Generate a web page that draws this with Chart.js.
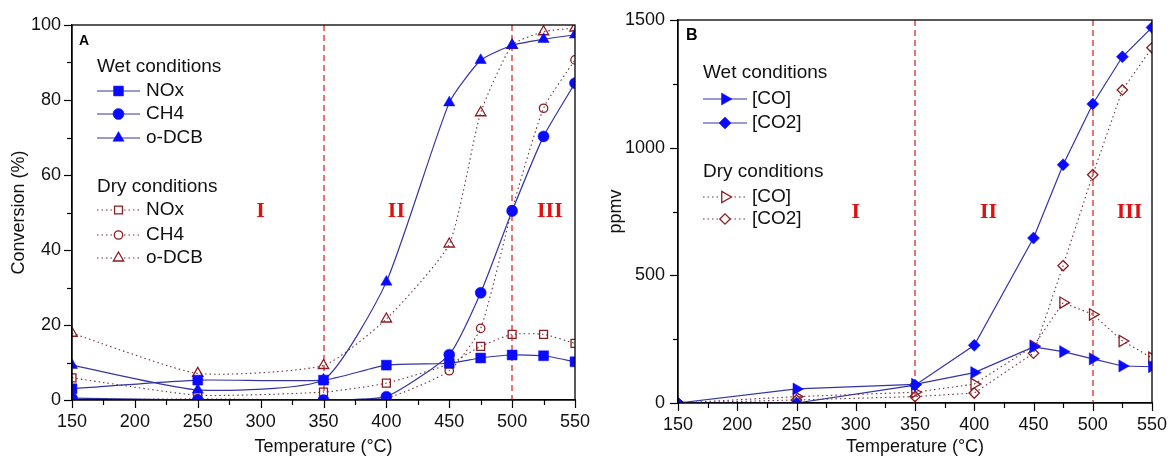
<!DOCTYPE html>
<html><head><meta charset="utf-8">
<script src="https://cdn.jsdelivr.net/npm/chart.js@4/dist/chart.umd.min.js"></script>
<style>
html,body{margin:0;padding:0;background:#fff;}
#wrap{position:relative;width:1172px;height:464px;overflow:hidden;background:#fff;}
canvas{position:absolute;top:0;}
</style></head><body>
<div id="wrap">
<canvas id="cA" width="600" height="464" style="left:0;width:600px;height:464px"></canvas>
<canvas id="cB" width="592" height="464" style="left:580px;width:592px;height:464px"></canvas>
</div>
<script>
// ---------- data ----------
const temperatures = [150, 250, 350, 400, 450, 475, 500, 525, 550];

// Panel A: conversion (%)
const wetNOx  = [3.0, 5.3, 5.3, 9.3, 9.8, 11.2, 12.0, 11.8, 10.2];
const wetCH4  = [0.5, 0.0, 0.0, 0.9, 12.1, 28.6, 50.4, 70.3, 84.5];
const wetODCB = [9.3, 2.7, 5.4, 31.5, 79.3, 90.6, 94.6, 96.2, 97.4];
const dryNOx  = [5.9, 1.3, 2.1, 4.5, 9.6, 14.3, 17.5, 17.5, 15.1];
const dryCH4  = [0.0, 0.3, 0.0, 0.5, 7.8, 19.1, 50.8, 77.8, 90.7];
const dryODCB = [17.8, 7.1, 9.2, 21.6, 41.6, 76.6, 94.6, 98.2, 99.2];

// Panel B: ppmv
const wetCO   = [0, 55, 73, 119, 220, 201, 173, 145, 142];
const wetCO2  = [0, 0, 70, 226, 646, 933, 1171, 1356, 1471];
const dryCO   = [0, 25, 42, 74, 223, 393, 347, 243, 177];
const dryCO2  = [0, 12, 25, 39, 195, 538, 894, 1226, 1391];

// tick labelling
const xLabelStep = 50, xMinorStep = 25;
const yA_LabelStep = 20, yA_MinorStep = 10;
const yB_LabelStep = 500, yB_MinorStep = 250;

// region boundaries and labels
const boundaries = [350, 500];
const regionNames = ['I', 'II', 'III'];
const regionXA = [300, 408, 530];
const regionXB = [300, 412, 531];

// ---------- styles ----------
const FONT = '"Liberation Sans", Arial, Helvetica, sans-serif';
const WET_LINE = '#3434a6';
const WET_FILL = '#0a0aff';
const DRY_MARK = '#8b1d22';
const DRY_LINE = '#6e3440';
const TXT = '#111';

function pts(arr){ return arr.map((v,i)=>({x: temperatures[i], y: v})); }

function wetDS(label, arr, shape, r, rot, tension){
  return {label, data: pts(arr), borderColor: WET_LINE, borderWidth: 1.2, tension, clip: 0,
    pointStyle: shape, pointRadius: r, pointRotation: rot, pointBackgroundColor: WET_FILL,
    pointBorderColor: WET_FILL, pointBorderWidth: 0.5, _kind:'wet'};
}
function dryDS(label, arr, shape, r, rot, tension){
  return {label, data: pts(arr), borderColor: DRY_LINE, borderWidth: 1.1, borderDash:[1.5,3], tension, clip: 0,
    pointStyle: shape, pointRadius: r, pointRotation: rot, pointBackgroundColor: 'rgba(255,255,255,0)',
    pointBorderColor: DRY_MARK, pointBorderWidth: 1.3, _kind:'dry'};
}

function drawMarker(ctx, shape, x, y, r, rotDeg, fill, stroke, lw){
  ctx.save();
  ctx.beginPath();
  let a = (rotDeg||0) * Math.PI/180;
  if (shape === 'circle') ctx.arc(x, y, r, 0, 2*Math.PI);
  else if (shape === 'rect'){ const s = r*Math.SQRT1_2; ctx.rect(x-s, y-s, 2*s, 2*s); }
  else if (shape === 'rectRot'){ ctx.moveTo(x-r,y); ctx.lineTo(x,y-r); ctx.lineTo(x+r,y); ctx.lineTo(x,y+r); ctx.closePath(); }
  else if (shape === 'triangle'){
    ctx.moveTo(x+Math.sin(a)*r, y-Math.cos(a)*r); a += 2*Math.PI/3;
    ctx.lineTo(x+Math.sin(a)*r, y-Math.cos(a)*r); a += 2*Math.PI/3;
    ctx.lineTo(x+Math.sin(a)*r, y-Math.cos(a)*r); ctx.closePath();
  }
  if (fill){ ctx.fillStyle = fill; ctx.fill(); }
  if (stroke && lw){ ctx.strokeStyle = stroke; ctx.lineWidth = lw; ctx.stroke(); }
  ctx.restore();
}

function xScale(h){
  return {type:'linear', min:150, max:550,
    ticks:{stepSize:xMinorStep, autoSkip:false, maxRotation:0, minRotation:0, color:TXT, padding:3,
      font:{family:FONT, size:18}, callback:v => (v % xLabelStep === 0 ? String(v) : '')},
    grid:{display:true, drawOnChartArea:false, drawTicks:true, tickLength:8, color:'rgba(0,0,0,0)'},
    border:{display:true, color:'#000', width:1.3},
    title:{display:true, text:'Temperature (°C)', color:TXT, font:{family:FONT, size:18}, padding:{top:0, bottom:6}},
    afterFit: s => { s.height = h; s.paddingLeft = 0; s.paddingRight = 0; }
  };
}
function yScale(max, minor, labelStep, w, title, tpad, pad){
  return {type:'linear', min:0, max,
    ticks:{stepSize:minor, autoSkip:false, color:TXT, padding:pad, font:{family:FONT, size:18},
      callback:v => (v % labelStep === 0 ? String(v) : '')},
    grid:{display:true, drawOnChartArea:false, drawTicks:true, tickLength:8, color:'rgba(0,0,0,0)'},
    border:{display:true, color:'#000', width:1.3},
    title:{display:true, text:title, color:TXT, font:{family:FONT, size:18}, padding:{top:tpad, bottom:0}},
    afterFit: s => { s.width = w; s.paddingTop = 0; s.paddingBottom = 0; }
  };
}

function decorPlugin(cfg){
  return {
    id:'decor',
    beforeDatasetsDraw(chart){
      const {ctx, chartArea:{top,bottom}, scales:{x,y}} = chart;
      ctx.save();
      ctx.strokeStyle = '#dc3c3c'; ctx.lineWidth = 1.4; ctx.setLineDash([6,4]);
      boundaries.forEach(b => { const px = Math.round(x.getPixelForValue(b)); ctx.beginPath(); ctx.moveTo(px, top); ctx.lineTo(px, bottom); ctx.stroke(); });
      ctx.setLineDash([]);
      ctx.fillStyle = '#e01010'; ctx.font = 'bold 22px "Liberation Serif", "Times New Roman", serif';
      ctx.textAlign = 'center'; ctx.textBaseline = 'middle';
      regionNames.forEach((n,i) => ctx.fillText(n, x.getPixelForValue(cfg.regionX[i]), y.getPixelForValue(cfg.regionY)));
      ctx.restore();
    },
    afterDraw(chart){
      const {ctx, chartArea:{left,right,top,bottom}, scales:{x,y}} = chart;
      ctx.save();
      ctx.strokeStyle = '#000'; ctx.lineWidth = 1.2;
      x.ticks.forEach(t => { const px = Math.round(x.getPixelForValue(t.value))+0.5; const major = t.value % xLabelStep === 0;
        ctx.beginPath(); ctx.moveTo(px, bottom); ctx.lineTo(px, bottom + (major ? 8 : 5)); ctx.stroke(); });
      y.ticks.forEach(t => { const py = Math.round(y.getPixelForValue(t.value))+0.5; const major = t.value % cfg.yLabelStep === 0;
        ctx.beginPath(); ctx.moveTo(left, py); ctx.lineTo(left - (major ? 8 : 5), py); ctx.stroke(); });
      ctx.lineWidth = 1.3;
      ctx.strokeRect(left, top, right-left, bottom-top);
      // panel letter
      ctx.fillStyle = '#000'; ctx.font = 'bold ' + cfg.letterSize + 'px ' + FONT;
      ctx.textAlign = 'left'; ctx.textBaseline = 'middle';
      ctx.fillText(cfg.letter, cfg.letterX, cfg.letterY);
      // legend
      const L = cfg.legend;
      ctx.font = '19px ' + FONT; ctx.fillStyle = TXT;
      L.headers.forEach(h => ctx.fillText(h.text, L.x0, h.y));
      L.rows.forEach(r => {
        const ds = chart.data.datasets[r.ds];
        ctx.save();
        ctx.strokeStyle = ds.borderColor; ctx.lineWidth = ds.borderWidth;
        ctx.setLineDash(ds.borderDash || []);
        ctx.beginPath(); ctx.moveTo(L.x0, r.y); ctx.lineTo(L.x1, r.y); ctx.stroke();
        ctx.restore();
        const mx = (L.x0 + L.x1)/2;
        if (ds._kind === 'wet') drawMarker(ctx, ds.pointStyle, mx, r.y, ds.pointRadius, ds.pointRotation, WET_FILL, WET_FILL, 0.5);
        else {
          drawMarker(ctx, ds.pointStyle, mx, r.y, ds.pointRadius, ds.pointRotation, '#fff', null, 0);
          drawMarker(ctx, ds.pointStyle, mx, r.y, ds.pointRadius, ds.pointRotation, null, DRY_MARK, 1.3);
        }
        ctx.fillStyle = TXT;
        ctx.fillText(ds.label, L.tx, r.y);
      });
      ctx.restore();
    }
  };
}

function baseOptions(padTop, padRight, xs, ys){
  return {responsive:false, animation:false, devicePixelRatio:1,
    layout:{padding:{top:padTop, right:padRight, left:0, bottom:0}, autoPadding:false},
    plugins:{legend:{display:false}, tooltip:{enabled:false}},
    scales:{x:xs, y:ys}};
}

// ---------- Panel A ----------
new Chart(document.getElementById('cA'), {
  type:'line',
  data:{datasets:[
    wetDS('NOx', wetNOx, 'rect', 7, 0, 0.18),
    wetDS('CH4', wetCH4, 'circle', 5.5, 0, 0.18),
    wetDS('o-DCB', wetODCB, 'triangle', 6.5, 0, 0.18),
    dryDS('NOx', dryNOx, 'rect', 5.6, 0, 0.18),
    dryDS('CH4', dryCH4, 'circle', 4.2, 0, 0.18),
    dryDS('o-DCB', dryODCB, 'triangle', 6, 0, 0.18)
  ]},
  options: baseOptions(25, 25, xScale(64), yScale(100, yA_MinorStep, yA_LabelStep, 72, 'Conversion (%)', 8, 3)),
  plugins:[decorPlugin({regionX: regionXA, regionY: 50.4, yLabelStep: yA_LabelStep,
    letter:'A', letterX:79, letterY:41, letterSize:14,
    legend:{x0:97, x1:140, tx:146,
      headers:[{text:'Wet conditions', y:67},{text:'Dry conditions', y:187}],
      rows:[{ds:0,y:91},{ds:1,y:114},{ds:2,y:138},{ds:3,y:210},{ds:4,y:235},{ds:5,y:258}]}})]
});

// ---------- Panel B ----------
new Chart(document.getElementById('cB'), {
  type:'line',
  data:{datasets:[
    wetDS('[CO]', wetCO, 'triangle', 7, 90, 0),
    wetDS('[CO2]', wetCO2, 'rectRot', 6, 0, 0),
    dryDS('[CO]', dryCO, 'triangle', 6.5, 90, 0),
    dryDS('[CO2]', dryCO2, 'rectRot', 5.2, 0, 0)
  ]},
  options: baseOptions(20, 20, xScale(61), yScale(1500, yB_MinorStep, yB_LabelStep, 98, 'ppmv', 25, 5)),
  plugins:[decorPlugin({regionX: regionXB, regionY: 748, yLabelStep: yB_LabelStep,
    letter:'B', letterX:106, letterY:36, letterSize:16,
    legend:{x0:123, x1:167, tx:172,
      headers:[{text:'Wet conditions', y:73},{text:'Dry conditions', y:172}],
      rows:[{ds:0,y:99},{ds:1,y:123},{ds:2,y:197},{ds:3,y:219}]}})]
});
</script>
</body></html>
